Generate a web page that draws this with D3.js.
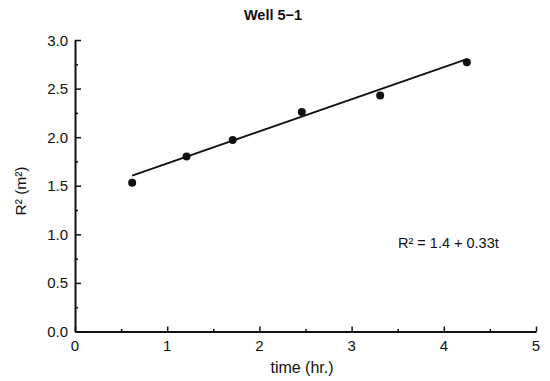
<!DOCTYPE html>
<html>
<head>
<meta charset="utf-8">
<script src="https://cdn.jsdelivr.net/npm/d3@7"></script>
<style>
  body { margin: 0; background: #fff; }
  text { font-family: "Liberation Sans", Arial, sans-serif; fill: #111; }
  .axis path, .axis line { stroke: #111; }
</style>
</head>
<body>
<svg id="chart" width="550" height="381"></svg>
<script>
// measured points
var timeHr = [0.62, 1.21, 1.71, 2.46, 3.31, 4.25];
var rSq = [1.53, 1.80, 1.97, 2.26, 2.43, 2.77];
// fit R2 = a + b t
var fitA = 1.4;
var fitB = 0.33;
var xTicks = [0, 1, 2, 3, 4, 5];
var yTicks = [0.0, 0.5, 1.0, 1.5, 2.0, 2.5, 3.0];

var svg = d3.select("#chart");
var padLeft = 75, padRight = 536, padTop = 40, padBottom = 331.5;

var x = d3.scaleLinear().domain([0, 5]).range([padLeft, padRight]);
var y = d3.scaleLinear().domain([0, 3]).range([padBottom, padTop]);

// minor ticks first
var xMinor = d3.range(0.5, 5, 1);
var yMinor = d3.range(0.25, 3, 0.5);

svg.append("g")
    .attr("class", "axis")
    .attr("transform", "translate(0," + padBottom + ")")
    .call(d3.axisTop(x).tickValues(xMinor).tickSize(2.5).tickFormat(""))
    .call(function (g) { g.select(".domain").remove(); });

svg.append("g")
    .attr("class", "axis")
    .attr("transform", "translate(" + padLeft + ",0)")
    .call(d3.axisRight(y).tickValues(yMinor).tickSize(3).tickFormat(""))
    .call(function (g) { g.select(".domain").remove(); });

// major ticks (inward)
var xAxis = svg.append("g")
    .attr("class", "axis")
    .attr("transform", "translate(0," + padBottom + ")")
    .call(d3.axisTop(x).tickValues(xTicks).tickSizeInner(5).tickSizeOuter(0).tickFormat(""));
xAxis.select(".domain").attr("stroke-width", 2);

var yAxis = svg.append("g")
    .attr("class", "axis")
    .attr("transform", "translate(" + padLeft + ",0)")
    .call(d3.axisRight(y).tickValues(yTicks).tickSizeInner(6).tickSizeOuter(0).tickFormat(""));
yAxis.select(".domain").attr("stroke-width", 2);
svg.selectAll(".axis line").attr("stroke-width", 1.5);

// tick labels
svg.selectAll(".xlab").data(xTicks).enter().append("text")
    .attr("x", function (d) { return x(d); })
    .attr("y", 351)
    .attr("text-anchor", "middle")
    .style("font-size", "15px")
    .text(function (d) { return d; });

svg.selectAll(".ylab").data(yTicks).enter().append("text")
    .attr("x", 68)
    .attr("y", function (d) { return y(d) + 5.5; })
    .attr("text-anchor", "end")
    .style("font-size", "15px")
    .text(function (d) { return d.toFixed(1); });

// fit line
var tMin = d3.min(timeHr), tMax = d3.max(timeHr);
svg.append("line")
    .attr("x1", x(tMin)).attr("y1", y(fitA + fitB * tMin))
    .attr("x2", x(tMax)).attr("y2", y(fitA + fitB * tMax))
    .attr("stroke", "#111")
    .attr("stroke-width", 1.8);

// points
svg.selectAll("circle").data(timeHr).enter().append("circle")
    .attr("cx", function (d) { return x(d); })
    .attr("cy", function (d, i) { return y(rSq[i]); })
    .attr("r", 4)
    .attr("fill", "#111");

// titles
svg.append("text")
    .attr("x", 273).attr("y", 20)
    .attr("text-anchor", "middle")
    .style("font-size", "14.5px")
    .style("font-weight", "bold")
    .text("Well 5\u22121");

svg.append("text")
    .attr("x", 302).attr("y", 373)
    .attr("text-anchor", "middle")
    .style("font-size", "16px")
    .text("time (hr.)");

svg.append("text")
    .attr("transform", "translate(26,191) rotate(-90)")
    .attr("text-anchor", "middle")
    .style("font-size", "15.5px")
    .text("R\u00b2 (m\u00b2)");

svg.append("text")
    .attr("x", 398).attr("y", 248)
    .style("font-size", "14.5px")
    .text("R\u00b2 = 1.4 + 0.33t");
</script>
</body>
</html>
